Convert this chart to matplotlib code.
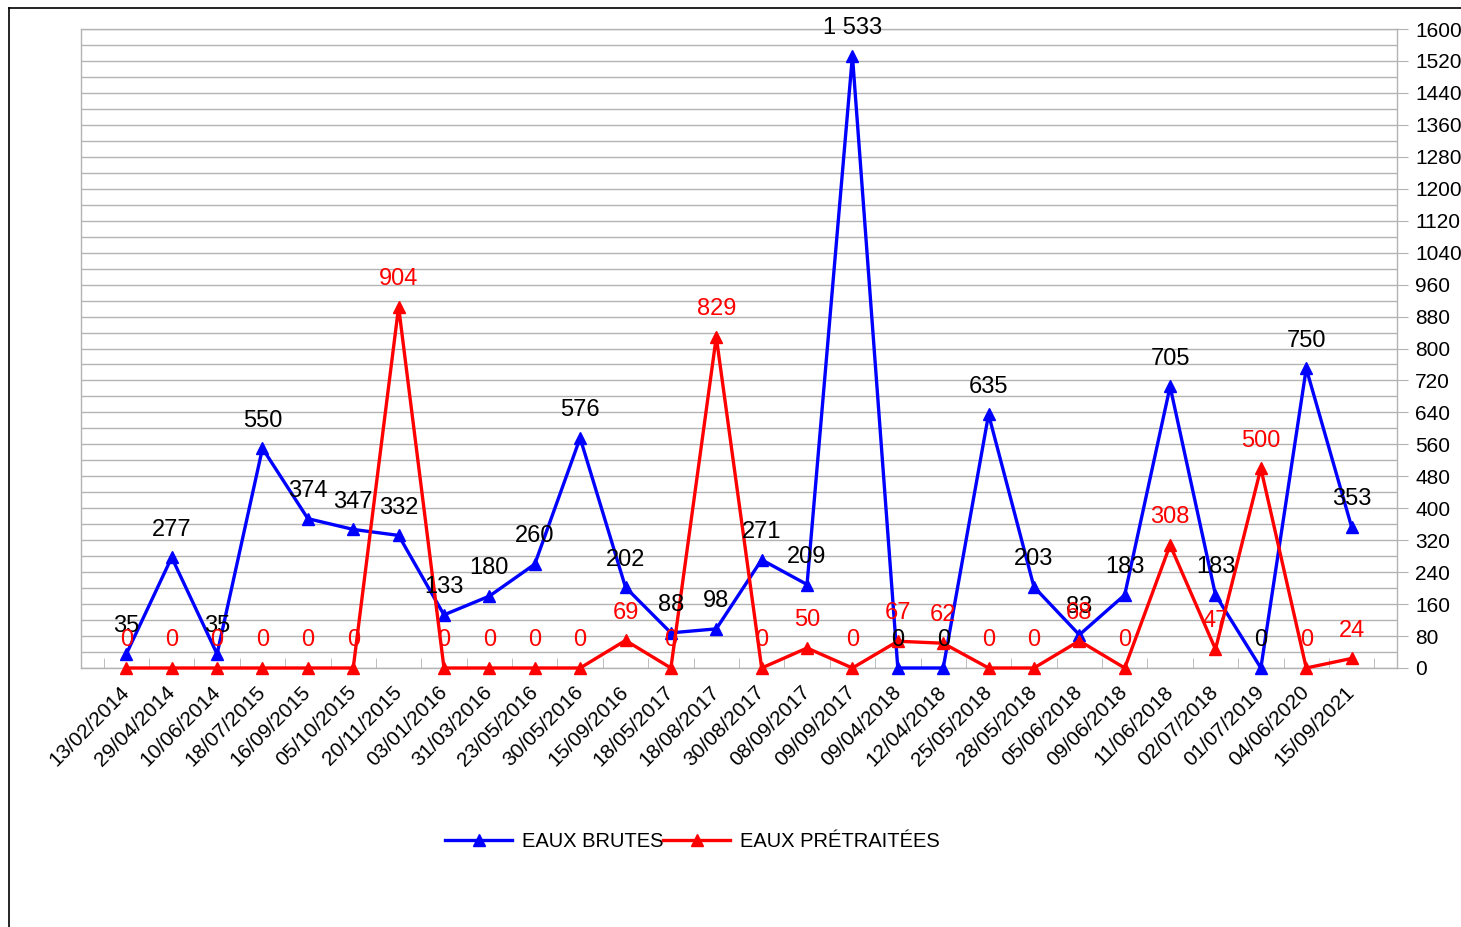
import matplotlib.pyplot as plt
from matplotlib.lines import Line2D
from matplotlib.ticker import MultipleLocator

plt.rcParams['font.family'] = ['Liberation Sans', 'DejaVu Sans']

dates = ['13/02/2014', '29/04/2014', '10/06/2014', '18/07/2015', '16/09/2015',
         '05/10/2015', '20/11/2015', '03/01/2016', '31/03/2016', '23/05/2016',
         '30/05/2016', '15/09/2016', '18/05/2017', '18/08/2017', '30/08/2017',
         '08/09/2017', '09/09/2017', '09/04/2018', '12/04/2018', '25/05/2018',
         '28/05/2018', '05/06/2018', '09/06/2018', '11/06/2018', '02/07/2018',
         '01/07/2019', '04/06/2020', '15/09/2021']
eaux_brutes = [35, 277, 35, 550, 374, 347, 332, 133, 180, 260, 576, 202, 88, 98,
               271, 209, 1533, 0, 0, 635, 203, 83, 183, 705, 183, 0, 750, 353]
eaux_pretraitees = [0, 0, 0, 0, 0, 0, 904, 0, 0, 0, 0, 69, 0, 829, 0, 50, 0, 67,
                    62, 0, 0, 68, 0, 308, 47, 500, 0, 24]


def fmt(v):
    # thousands separated by a space, French style
    return f'{v:,}'.replace(',', ' ')


fig = plt.figure(figsize=(14.61, 9.27), dpi=100)
ax = fig.add_axes([0.0554, 0.2794, 0.9008, 0.6893])

x = list(range(len(dates)))
ax.plot(x, eaux_brutes, color='#0000ff', lw=2.4, marker='^', ms=9,
        label='EAUX BRUTES', zorder=3, clip_on=False)
ax.plot(x, eaux_pretraitees, color='#ff0000', lw=2.4, marker='^', ms=9,
        label='EAUX PRÉTRAITÉES', zorder=3, clip_on=False)

for xi, v in zip(x, eaux_brutes):
    ax.annotate(fmt(v), (xi, v), xytext=(0, 20), textcoords='offset points',
                ha='center', va='center', fontsize=17, color='black', zorder=4)
for xi, v in zip(x, eaux_pretraitees):
    ax.annotate(fmt(v), (xi, v), xytext=(0, 20), textcoords='offset points',
                ha='center', va='center', fontsize=17, color='#ff0000', zorder=5)

ax.set_xlim(-1, len(dates))
ax.set_ylim(0, 1600)

ax.yaxis.tick_right()
ax.yaxis.set_major_locator(MultipleLocator(80))
ax.yaxis.set_minor_locator(MultipleLocator(40))
ax.grid(axis='y', which='both', color='#b3b3b3', lw=1)
ax.set_axisbelow(True)
ax.tick_params(axis='y', which='major', direction='out', length=8, color='#b3b3b3',
               labelsize=15, pad=5)
ax.tick_params(axis='y', which='minor', length=0)

ax.set_xticks(x)
ax.set_xticklabels(dates, rotation=45, ha='right', va='center',
                   rotation_mode='anchor', fontsize=15)
ax.set_xticks([i + 0.5 for i in range(-1, len(dates))], minor=True)
ax.tick_params(axis='x', which='major', length=0, pad=15)
ax.tick_params(axis='x', which='minor', direction='in', length=7, color='#b3b3b3')

for s in ax.spines.values():
    s.set_color('#b3b3b3')
    s.set_linewidth(1)

fig.legend(loc='center', bbox_to_anchor=(0.474, 0.092), ncol=2, frameon=False,
           fontsize=14.5, handlelength=3.3, handletextpad=0.5, columnspacing=0)

# outer frame of the chart
fig.add_artist(Line2D([0.0062, 0.0062], [0, 0.9914], color='black', lw=1.2))
fig.add_artist(Line2D([0.0062, 1], [0.9914, 0.9914], color='black', lw=1.2))

fig.savefig('out.png', dpi=100)
